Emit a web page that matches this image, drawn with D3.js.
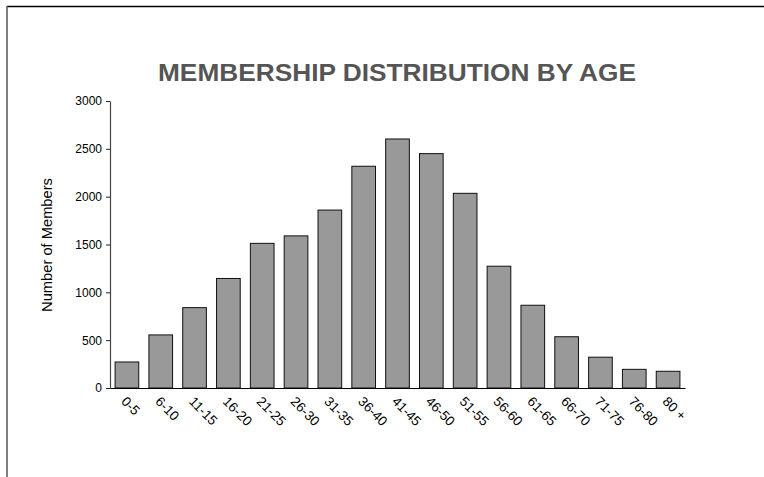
<!DOCTYPE html>
<html>
<head>
<meta charset="utf-8">
<script src="https://cdn.jsdelivr.net/npm/d3@7"></script>
<style>
  html, body { margin: 0; padding: 0; background: #fff; }
  svg { display: block; }
</style>
</head>
<body>
<svg id="chart" width="764" height="477"></svg>
<script>
const categories = ["0-5","6-10","11-15","16-20","21-25","26-30","31-35","36-40","41-45","46-50","51-55","56-60","61-65","66-70","71-75","76-80","80 +"];
const members = [272, 555, 840, 1145, 1512, 1590, 1860, 2318, 2603, 2450, 2035, 1273, 865, 536, 322, 195, 175];
const yTicks = [0, 500, 1000, 1500, 2000, 2500, 3000];
const titleText = "MEMBERSHIP DISTRIBUTION BY AGE";
const yLabel = "Number of Members";

const svg = d3.select("#chart");
const font = "Arial, 'Liberation Sans', Helvetica, sans-serif";

// frame
svg.append("line").attr("x1", 7).attr("y1", 6.5).attr("x2", 764).attr("y2", 6.5)
  .attr("stroke", "#000").attr("stroke-width", 1.5);
svg.append("line").attr("x1", 7).attr("y1", 6).attr("x2", 7).attr("y2", 477)
  .attr("stroke", "#555").attr("stroke-width", 1.5);

const x = d3.scaleBand().domain(categories).range([110, 685]).paddingInner(0.3).paddingOuter(0.15);
const y = d3.scaleLinear().domain([0, 3000]).range([388, 101]);

// title
svg.append("text")
  .attr("x", 158).attr("y", 81)
  .attr("font-family", font).attr("font-weight", "bold").attr("font-size", 24)
  .attr("fill", "#555")
  .attr("textLength", 478).attr("lengthAdjust", "spacingAndGlyphs")
  .text(titleText);

// bars
svg.append("g").selectAll("rect").data(members).join("rect")
  .attr("x", (d, i) => x(categories[i]))
  .attr("y", d => y(d))
  .attr("width", x.bandwidth())
  .attr("height", d => y(0) - y(d))
  .attr("fill", "#999999")
  .attr("stroke", "#111")
  .attr("stroke-width", 1);

// y axis
const yAxis = svg.append("g").attr("transform", "translate(110,0)")
  .call(d3.axisLeft(y).tickValues(yTicks).tickFormat(d3.format("d")).tickSize(4).tickPadding(4).tickSizeOuter(0));
yAxis.select(".domain").attr("stroke", "#444").attr("stroke-width", 1.2);
yAxis.selectAll(".tick line").attr("stroke", "#222");
yAxis.selectAll("text").attr("font-family", font).attr("font-size", 12).attr("fill", "#000");

// x axis
const xAxis = svg.append("g").attr("transform", "translate(0,388)")
  .call(d3.axisBottom(x).tickSize(0).tickSizeOuter(0));
xAxis.select(".domain").attr("stroke", "#000").attr("stroke-width", 1.2);
xAxis.selectAll("text")
  .attr("font-family", font).attr("font-size", 13.5).attr("fill", "#000")
  .attr("text-anchor", "start")
  .attr("x", 0).attr("y", 0).attr("dy", "0.35em")
  .attr("transform", "translate(-3,11) rotate(45)");

// y label
svg.append("text")
  .attr("transform", "translate(52,245) rotate(-90)")
  .attr("text-anchor", "middle")
  .attr("font-family", font).attr("font-size", 14.7).attr("fill", "#000")
  .text(yLabel);
</script>
</body>
</html>
